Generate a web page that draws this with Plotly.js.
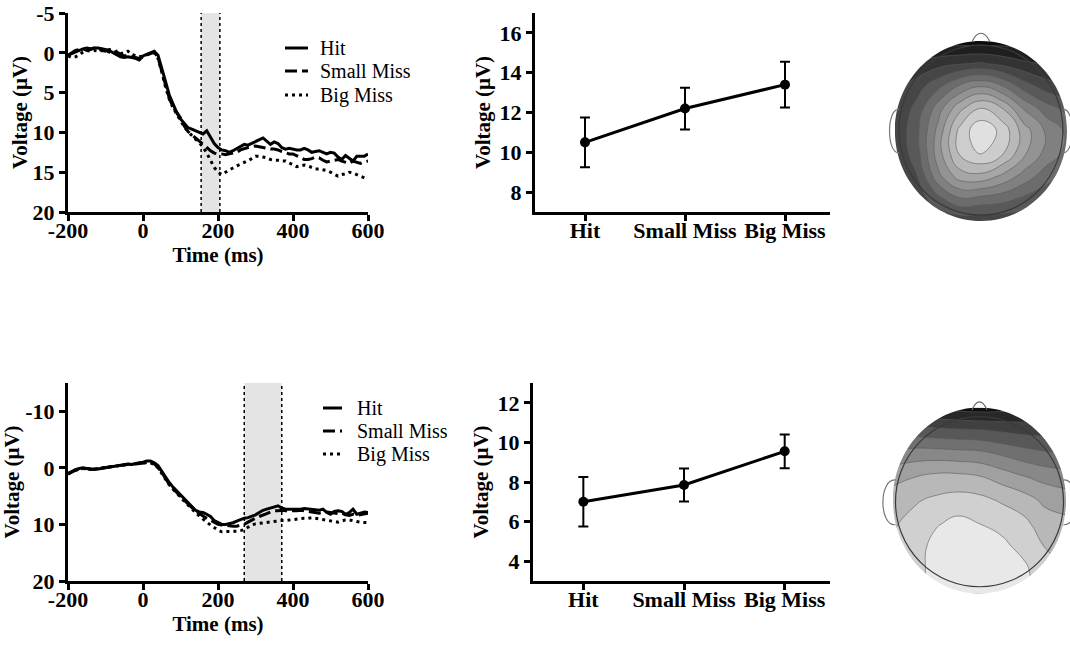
<!DOCTYPE html>
<html>
<head>
<meta charset="utf-8">
<script src="https://cdn.plot.ly/plotly-3.0.1.min.js"></script>
<style>html,body{margin:0;padding:0;background:#fff;}#chart{width:1070px;height:646px;}</style>
</head>
<body>
<div id="chart"></div>
<script>
// ---------------- DATA ----------------
const timeMs = [-200,-190,-180,-170,-160,-150,-140,-130,-120,-110,
  -100,-90,-80,-70,-60,-50,-40,-30,-20,-10,
  0,10,20,30,40,50,60,70,80,90,
  100,110,120,130,140,150,160,170,180,190,
  200,210,220,230,240,250,260,270,280,290,
  300,310,320,330,340,350,360,370,380,390,
  400,410,420,430,440,450,460,470,480,490,
  500,510,520,530,540,550,560,570,580,590,600];

const seriesNames = ['Hit', 'Small Miss', 'Big Miss'];

// Top row ERP (µV)
const topHit = [0.3,0.1,-0.2,-0.4,-0.5,-0.6,-0.5,-0.6,-0.6,-0.5,
  -0.4,-0.3,0.0,0.3,0.5,0.6,0.5,0.6,0.7,0.9,
  0.4,0.2,0.0,-0.2,0.3,1.8,3.6,5.3,6.5,7.5,
  8.3,8.9,9.4,9.6,9.8,10.1,10.2,9.8,10.6,11.4,
  11.9,12.2,12.3,12.5,12.3,12.0,11.7,11.5,11.6,11.4,
  11.2,11.0,10.7,11.1,11.5,11.2,11.4,11.9,12.1,12.0,
  12.1,12.2,12.2,12.0,12.2,12.5,12.4,12.3,12.5,12.7,
  12.5,12.6,13.1,13.4,12.9,13.2,13.6,13.0,13.0,13.0,12.7];
const topSmall = [0.3,0.0,-0.3,-0.4,-0.5,-0.3,-0.4,-0.6,-0.5,-0.3,
  -0.2,-0.4,-0.3,-0.1,0.2,0.4,0.3,0.5,0.6,0.7,
  0.5,0.2,0.0,-0.1,0.6,2.3,4.2,5.7,6.8,7.5,
  8.2,9.2,9.9,10.3,10.7,11.2,11.6,12.0,12.3,12.6,
  12.7,12.7,12.8,12.7,12.6,12.5,12.2,12.0,11.9,11.8,
  11.7,11.8,11.9,12.0,12.1,12.1,12.2,12.4,12.6,12.7,
  12.7,12.9,13.2,13.4,13.4,13.3,13.1,13.2,13.5,13.7,
  13.6,13.5,13.4,13.6,13.8,13.9,13.6,13.8,13.9,13.7,13.6];
const topBig = [0.4,0.6,0.5,0.3,-0.1,-0.3,-0.2,-0.3,-0.2,-0.3,
  -0.2,-0.1,0.0,-0.2,0.1,0.0,-0.2,0.2,0.4,0.5,
  0.4,0.2,0.1,0.0,0.7,2.4,4.3,5.8,6.9,7.7,
  8.5,9.3,9.9,10.4,10.9,11.4,11.8,12.6,13.5,14.4,
  15.0,15.3,15.0,14.7,14.4,14.2,14.0,13.8,13.5,13.3,
  13.0,13.0,13.1,13.2,13.4,13.5,13.5,13.6,13.6,13.8,
  14.1,14.3,14.2,14.1,14.2,14.4,14.6,14.6,14.7,14.8,
  15.0,15.3,15.5,15.3,15.2,15.0,15.1,15.3,15.5,15.7,15.9];

// Bottom row ERP (µV)
const botHit = [1.0,0.6,0.3,0.1,0.0,0.1,0.2,0.3,0.2,0.1,
  0.0,-0.2,-0.3,-0.4,-0.4,-0.6,-0.7,-0.6,-0.8,-0.9,
  -1.0,-1.2,-1.2,-0.9,-0.4,0.6,1.7,2.6,3.4,4.1,
  4.8,5.4,6.1,6.9,7.5,7.8,7.9,8.2,8.6,9.3,
  9.7,10.0,10.0,9.9,9.7,9.4,9.1,8.9,8.8,8.6,
  8.3,7.9,7.5,7.3,7.1,6.9,6.7,7.1,7.3,7.3,
  7.3,7.4,7.3,7.2,7.3,7.4,7.5,7.5,7.3,7.9,
  8.2,7.7,7.6,7.7,8.2,7.9,7.3,8.2,8.0,7.8,7.9];
const botSmall = [1.1,0.7,0.4,0.2,0.2,0.1,0.3,0.2,0.1,0.0,
  -0.1,-0.2,-0.2,-0.3,-0.5,-0.5,-0.6,-0.7,-0.7,-0.8,
  -0.9,-1.0,-1.0,-0.7,-0.1,0.8,1.9,2.9,3.7,4.3,
  5.0,5.7,6.4,7.0,7.6,8.1,8.5,8.9,9.3,9.7,
  10.0,10.1,10.2,10.2,10.3,10.3,10.2,10.0,9.6,9.2,
  8.9,8.6,8.4,8.1,7.8,7.6,7.6,7.5,7.6,7.6,
  7.7,7.6,7.5,7.6,7.7,7.8,7.9,8.0,7.9,7.8,
  7.9,8.0,8.1,8.0,8.3,8.4,8.2,8.4,8.3,8.1,8.0];
const botBig = [1.0,0.7,0.4,0.2,0.1,0.2,0.2,0.2,0.1,0.0,
  -0.1,-0.2,-0.3,-0.3,-0.4,-0.5,-0.6,-0.6,-0.7,-0.8,
  -0.9,-1.0,-0.9,-0.6,0.0,0.9,2.0,3.0,3.8,4.5,
  5.2,5.9,6.6,7.3,7.9,8.5,9.1,9.6,10.1,10.6,
  11.0,11.3,11.3,11.3,11.2,11.2,11.1,10.9,10.5,10.1,
  9.9,9.8,9.7,9.7,9.6,9.5,9.4,9.3,9.3,9.2,
  9.1,9.1,9.0,8.9,8.9,8.8,8.9,9.0,9.1,9.2,
  9.3,9.5,9.6,9.4,9.2,9.2,9.4,9.5,9.6,9.6,9.7];

// Analysis windows (ms)
const topWindow = [155, 205];
const botWindow = [270, 370];

// Mean amplitudes and error bars
const conditions = ['Hit', 'Small Miss', 'Big Miss'];
const topMean = [10.5, 12.2, 13.4];
const topErr  = [1.25, 1.05, 1.15];
const botMean = [7.0, 7.85, 9.55];
const botErr  = [1.25, 0.83, 0.85];

// Tick labels
const erpXTicks = [-200, 0, 200, 400, 600];
const erpXText  = ['-200', '0', '200', '400', '600'];
const topYTicks = [-5, 0, 5, 10, 15, 20];
const topYText  = ['-5', '0', '5', '10', '15', '20'];
const botYTicks = [-10, 0, 10, 20];
const botYText  = ['-10', '0', '10', '20'];
const topMeanTicks = [8, 10, 12, 14, 16];
const botMeanTicks = [4, 6, 8, 10, 12];

// Scalp maps: grid (normalised head coords) and values (rows bottom -> top)
const topoX = [-1, -0.75, -0.5, -0.25, 0, 0.25, 0.5, 0.75, 1];
const topoY = [-1, -0.75, -0.5, -0.25, 0, 0.25, 0.5, 0.75, 1];
const topMap = [
  [2.0, 2.2, 2.6, 2.8, 2.8, 2.8, 2.8, 2.6, 2.4],
  [2.2, 2.8, 4.2, 5.4, 5.2, 4.9, 4.3, 3.8, 3.2],
  [2.5, 3.4, 6.2, 8.0, 8.2, 7.3, 6.1, 5.0, 4.2],
  [2.6, 4.0, 7.0, 9.6, 10.6, 9.6, 7.7, 6.2, 5.2],
  [2.6, 4.2, 6.8, 9.8, 11.3, 10.2, 8.0, 6.4, 5.3],
  [2.5, 3.8, 6.0, 8.2, 9.6, 8.5, 6.4, 5.0, 4.2],
  [2.0, 3.0, 4.2, 5.6, 6.4, 5.5, 4.0, 3.0, 2.6],
  [1.0, 1.6, 2.1, 2.4, 2.6, 2.2, 1.7, 1.4, 1.2],
  [0.0, 0.0, 0.0, 0.0, 0.0, 0.0, 0.0, 0.0, 0.0]
];
const botMap = [
  [7.8, 8.0, 9.0, 9.4, 9.4, 9.3, 8.8, 7.8, 7.5],
  [7.8, 8.0, 9.0, 9.4, 9.4, 9.2, 8.8, 7.8, 7.5],
  [7.6, 8.0, 8.9, 9.3, 9.2, 8.8, 8.2, 7.5, 7.2],
  [7.4, 7.8, 8.4, 8.8, 8.5, 8.2, 7.8, 7.0, 6.8],
  [7.0, 7.4, 7.7, 7.9, 7.8, 7.4, 7.0, 6.3, 6.0],
  [6.2, 6.5, 6.8, 6.8, 6.6, 6.1, 5.6, 5.2, 5.0],
  [4.8, 5.0, 5.0, 4.9, 4.8, 4.4, 4.0, 3.7, 3.5],
  [3.0, 3.0, 2.8, 2.7, 2.6, 2.4, 2.2, 2.1, 2.0],
  [0.5, 0.5, 0.3, 0.1, 0.0, 0.1, 0.3, 0.5, 0.5]
];

// ---------------- STYLE / LAYOUT ----------------
const W = 1070, H = 646;
const px = v => v / W;
const py = v => 1 - v / H;
const FONT = 'Liberation Serif, Times New Roman, serif';
const dashes = ['solid', '12px,5px', '3px,4px'];

function erpTraces(xa, ya, ys) {
  return ys.map((y, i) => ({
    type: 'scatter', mode: 'lines', x: timeMs, y: y, name: seriesNames[i],
    xaxis: xa, yaxis: ya, showlegend: false,
    line: {color: '#000', width: 3, dash: dashes[i]},
    hoverinfo: 'skip'
  }));
}
function meanTrace(xa, ya, ys, es) {
  return {
    type: 'scatter', mode: 'lines+markers', x: conditions, y: ys,
    xaxis: xa, yaxis: ya, showlegend: false,
    line: {color: '#000', width: 3},
    marker: {color: '#000', size: 10},
    error_y: {type: 'data', array: es, visible: true, color: '#000', thickness: 2, width: 5},
    hoverinfo: 'skip'
  };
}
function topoTrace(xa, ya, z, zmax, c0, c1) {
  return {
    type: 'contour', x: topoX, y: topoY, z: z, xaxis: xa, yaxis: ya,
    showscale: false, showlegend: false, hoverinfo: 'skip',
    zmin: 0, zmax: zmax, autocontour: false,
    contours: {start: 0.5, end: zmax - 0.5, size: 1, coloring: 'fill'},
    colorscale: [[0, c0], [1, c1]],
    line: {color: '#5a5a5a', width: 0.6, smoothing: 1.3}
  };
}

const data = [].concat(
  erpTraces('x', 'y', [topHit, topSmall, topBig]),
  [meanTrace('x2', 'y2', topMean, topErr)],
  erpTraces('x3', 'y3', [botHit, botSmall, botBig]),
  [meanTrace('x4', 'y4', botMean, botErr)],
  [topoTrace('x5', 'y5', topMap, 11.5, '#0c0c0c', '#e0e0e0')],
  [topoTrace('x6', 'y6', botMap, 9.5, '#101010', '#e8e8e8')]
);

const tickFont = {family: FONT, size: 22, color: '#000', weight: 'bold'};
const titleFont = {family: FONT, size: 21, color: '#000', weight: 'bold'};
function axisBase(extra) {
  return Object.assign({
    showline: true, linecolor: '#000', linewidth: 3,
    ticks: 'outside', ticklen: 6, tickwidth: 3, tickcolor: '#000',
    showgrid: false, zeroline: false, fixedrange: true,
    tickfont: tickFont
  }, extra);
}
function hidden(extra) {
  return Object.assign({visible: false, showgrid: false, zeroline: false, fixedrange: true}, extra);
}

const k = 0.5523;
const maskPath = 'M-3,-3 L3,-3 L3,3 L-3,3 Z ' +
  `M1,0 C1,${k} ${k},1 0,1 C${-k},1 -1,${k} -1,0 C-1,${-k} ${-k},-1 0,-1 C${k},-1 1,${-k} 1,0 Z`;

function topoShapes(xr, yr, outline, nose, ears) {
  return [
    {type: 'path', xref: xr, yref: yr, path: maskPath, fillcolor: '#fff', line: {width: 0}, layer: 'above'},
    {type: 'circle', xref: xr, yref: yr, x0: outline[0], x1: outline[1], y0: outline[2], y1: outline[3],
     line: {color: '#3a3a3a', width: 1.2}, layer: 'above'},
    {type: 'path', xref: xr, yref: yr, path: nose, line: {color: '#666', width: 1.2}, layer: 'above'},
    {type: 'path', xref: xr, yref: yr, path: ears[0], line: {color: '#777', width: 1.2}, layer: 'above'},
    {type: 'path', xref: xr, yref: yr, path: ears[1], line: {color: '#777', width: 1.2}, layer: 'above'}
  ];
}
function windowShapes(xr, yr, w) {
  return [
    {type: 'rect', xref: xr, yref: yr + ' domain', x0: w[0], x1: w[1], y0: 0, y1: 1,
     fillcolor: '#e4e4e4', line: {width: 0}, layer: 'below'},
    {type: 'line', xref: xr, yref: yr + ' domain', x0: w[0], x1: w[0], y0: 0, y1: 1,
     line: {color: '#000', width: 1.5, dash: 'dot'}, layer: 'below'},
    {type: 'line', xref: xr, yref: yr + ' domain', x0: w[1], x1: w[1], y0: 0, y1: 1,
     line: {color: '#000', width: 1.5, dash: 'dot'}, layer: 'below'}
  ];
}

// Hand-placed legends (pixel positions of each row)
function legendItems(x0, x1, xt, ys) {
  const shapes = [], anns = [];
  ys.forEach((y, i) => {
    shapes.push({type: 'line', xref: 'paper', yref: 'paper', x0: px(x0), x1: px(x1), y0: py(y), y1: py(y),
      line: {color: '#000', width: 3, dash: dashes[i]}});
    anns.push({xref: 'paper', yref: 'paper', x: px(xt), y: py(y), xanchor: 'left', yanchor: 'middle',
      text: seriesNames[i], showarrow: false, font: {family: FONT, size: 20, color: '#000'}});
  });
  return {shapes, anns};
}
const leg1 = legendItems(285, 308, 318, [48, 71, 95]);
const leg2 = legendItems(323, 342, 355, [408, 431, 454]);

const layout = {
  width: W, height: H,
  margin: {l: 0, r: 0, t: 0, b: 0, pad: 0},
  paper_bgcolor: '#fff', plot_bgcolor: 'rgba(0,0,0,0)',
  showlegend: false,
  xaxis: axisBase({domain: [px(68), px(368)], range: [-200, 600], anchor: 'y',
    tickvals: erpXTicks, ticktext: erpXText, ticklabelstandoff: -9,
    title: {text: 'Time (ms)', font: titleFont, standoff: 5}}),
  yaxis: axisBase({domain: [py(212), py(13)], range: [20, -5], anchor: 'x',
    tickvals: topYTicks, ticktext: topYText,
    title: {text: 'Voltage (μV)', font: titleFont, standoff: 0}}),
  xaxis2: axisBase({domain: [px(535), px(830)], type: 'category', categoryarray: conditions,
    range: [-0.5, 2.45], anchor: 'y2', ticklabelstandoff: -9}),
  yaxis2: axisBase({domain: [py(212), py(13)], range: [7, 17], anchor: 'x2',
    tickvals: topMeanTicks,
    title: {text: 'Voltage (μV)', font: titleFont, standoff: 4}}),
  xaxis3: axisBase({domain: [px(68), px(368)], range: [-200, 600], anchor: 'y3',
    tickvals: erpXTicks, ticktext: erpXText, ticklabelstandoff: -9,
    title: {text: 'Time (ms)', font: titleFont, standoff: 3}}),
  yaxis3: axisBase({domain: [py(581), py(383)], range: [20, -15], anchor: 'x3',
    tickvals: botYTicks, ticktext: botYText,
    title: {text: 'Voltage (μV)', font: titleFont, standoff: 0}}),
  xaxis4: axisBase({domain: [px(533), px(830)], type: 'category', categoryarray: conditions,
    range: [-0.5, 2.45], anchor: 'y4', ticklabelstandoff: -9}),
  yaxis4: axisBase({domain: [py(581), py(383)], range: [3, 13], anchor: 'x4',
    tickvals: botMeanTicks,
    title: {text: 'Voltage (μV)', font: titleFont, standoff: 4}}),
  xaxis5: hidden({domain: [px(882), 1], range: [-1.15, 1.035], anchor: 'y5'}),
  yaxis5: hidden({domain: [py(234.5), py(27.5)], range: [-1.15, 1.15], anchor: 'x5'}),
  xaxis6: hidden({domain: [px(880), 1], range: [-1.15, 1.046], anchor: 'y6'}),
  yaxis6: hidden({domain: [py(607.5), py(393.5)], range: [-1.15, 1.15], anchor: 'x6'}),
  annotations: [].concat(leg1.anns, leg2.anns),
  shapes: [].concat(
    windowShapes('x', 'y', topWindow),
    windowShapes('x3', 'y3', botWindow),
    topoShapes('x5', 'y5', [-0.953, 0.953, -0.935, 0.955],
      'M-0.1,1.0 C-0.04,1.115 0.04,1.115 0.1,1.0',
      ['M-0.95,0.24 C-1.1,0.26 -1.1,-0.26 -0.95,-0.24', 'M0.95,0.24 C1.1,0.26 1.1,-0.26 0.95,-0.24']),
    topoShapes('x6', 'y6', [-0.971, 0.971, -0.927, 0.901],
      'M-0.087,0.973 C-0.035,1.09 0.035,1.09 0.087,0.973',
      ['M-0.97,0.22 C-1.165,0.24 -1.165,-0.28 -0.97,-0.26', 'M0.97,0.22 C1.165,0.24 1.165,-0.28 0.97,-0.26']),
    leg1.shapes, leg2.shapes
  )
};

Plotly.newPlot('chart', data, layout, {displayModeBar: false, staticPlot: true});
</script>
</body>
</html>
